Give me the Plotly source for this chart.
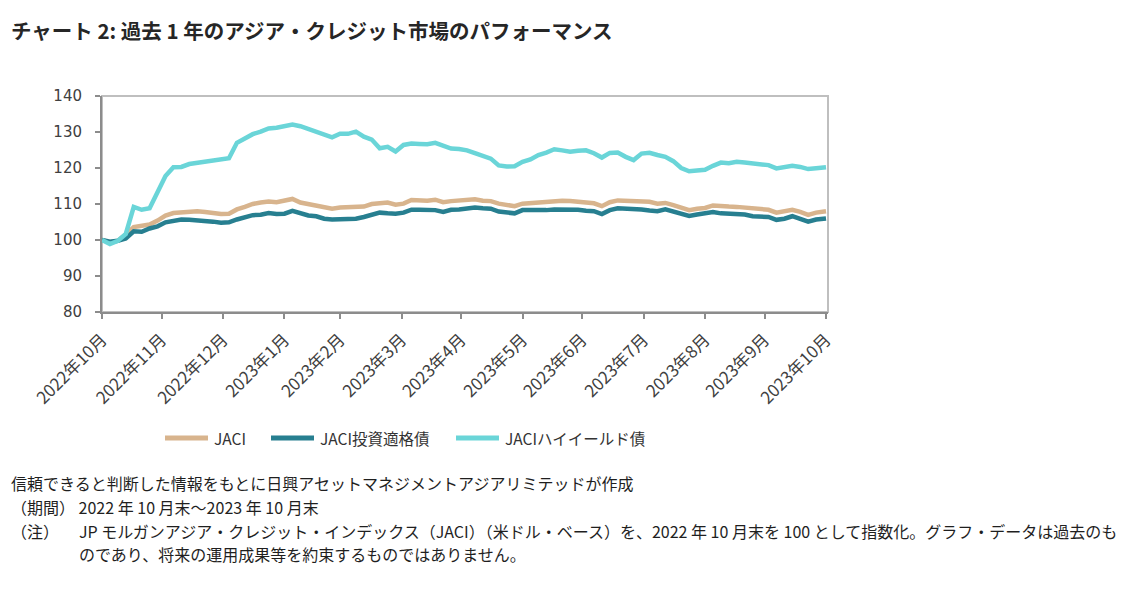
import pandas as pd
import plotly.graph_objects as go

# The page body adds an 8px margin, so the figure is sized to fill the window
OFF = 8
W, H = 1127 - 2 * OFF, 606 - 2 * OFF
PL, PR, PT, PB = 102, 828, 96, 312  # plot area box in window pixels

# ---------------- data ----------------
DATES = list(pd.date_range("2022-10-31", periods=92, freq="4D")) + [pd.Timestamp("2023-10-31")]

JACI = [100.0, 99.3, 99.8, 101.5, 103.6, 103.9, 104.3, 105.4, 106.8, 107.5,
        107.7, 107.9, 108.0, 107.8, 107.5, 107.2, 107.3, 108.5, 109.2, 110.0,
        110.4, 110.7, 110.5, 110.8, 111.4, 110.4, 110.0, 109.6, 109.0, 108.7,
        109.0, 109.1, 108.9, 109.3, 110.0, 110.1, 110.4, 109.8, 110.1, 111.1,
        111.0, 110.9, 111.2, 110.5, 110.8, 110.9, 111.1, 111.3, 110.9, 110.8,
        110.1, 109.7, 109.4, 110.1, 110.3, 110.4, 110.5, 110.8, 110.9, 110.8,
        110.7, 110.6, 110.2, 109.4, 110.5, 111.0, 110.9, 110.8, 110.8, 110.6,
        110.1, 110.3, 109.7, 109.0, 108.3, 108.7, 108.9, 109.6, 109.3, 109.3,
        109.2, 109.0, 108.7, 108.5, 108.4, 107.6, 108.0, 108.4, 107.8, 107.0,
        107.6, 107.9, 108.0]

JACI_IG = [100.0, 99.5, 99.8, 100.4, 102.4, 102.3, 103.2, 103.8, 104.9, 105.3,
           105.7, 105.6, 105.5, 105.4, 105.1, 104.8, 104.9, 105.7, 106.3, 106.9,
           107.0, 107.5, 107.2, 107.3, 108.1, 107.3, 106.8, 106.6, 105.9, 105.7,
           105.7, 105.7, 105.9, 106.4, 107.1, 107.6, 107.4, 107.3, 107.6, 108.4,
           108.4, 108.3, 108.3, 107.8, 108.4, 108.5, 108.8, 109.0, 108.8, 108.7,
           107.9, 107.6, 107.4, 108.3, 108.2, 108.1, 108.3, 108.5, 108.5, 108.6,
           108.4, 108.1, 108.0, 107.2, 108.3, 108.8, 108.8, 108.7, 108.5, 108.2,
           108.0, 108.5, 107.9, 107.2, 106.7, 107.1, 107.4, 107.8, 107.4, 107.4,
           107.3, 107.1, 106.6, 106.5, 106.4, 105.6, 105.9, 106.6, 105.9, 105.1,
           105.7, 105.9, 106.0]

JACI_HY = [100.0, 98.9, 99.8, 101.7, 109.2, 108.4, 108.8, 113.2, 117.8, 120.2,
           120.3, 121.1, 121.4, 121.6, 121.8, 122.4, 122.7, 127.0, 128.1, 129.4,
           130.1, 131.0, 131.2, 131.8, 132.1, 131.6, 130.9, 130.1, 129.3, 128.5,
           129.5, 129.5, 130.1, 128.7, 127.9, 125.5, 125.9, 124.6, 126.4, 126.8,
           126.7, 126.6, 127.0, 126.1, 125.4, 125.3, 124.9, 124.1, 123.4, 122.6,
           120.7, 120.4, 120.5, 121.7, 122.4, 123.6, 124.3, 125.2, 124.9, 124.5,
           124.8, 124.9, 124.1, 122.9, 124.2, 124.3, 123.1, 122.2, 124.0, 124.2,
           123.6, 123.1, 121.9, 120.0, 119.1, 119.2, 119.5, 120.6, 121.5, 121.3,
           121.7, 121.5, 121.3, 121.1, 120.8, 119.9, 120.3, 120.6, 120.3, 119.7,
           119.9, 120.1, 120.2]

SERIES_NAMES = ["JACI", "JACI投資適格債", "JACIハイイールド債"]
COLORS = ["#D8B48D", "#277F90", "#6AD5D8"]

TICK_DATES = ["2022-10-31", "2022-11-30", "2022-12-31", "2023-01-31", "2023-02-28",
              "2023-03-31", "2023-04-30", "2023-05-31", "2023-06-30", "2023-07-31",
              "2023-08-31", "2023-09-30", "2023-10-31"]
TICK_LABELS = ["2022年10月", "2022年11月", "2022年12月", "2023年1月", "2023年2月",
               "2023年3月", "2023年4月", "2023年5月", "2023年6月", "2023年7月",
               "2023年8月", "2023年9月", "2023年10月"]
Y_TICKS = [80, 90, 100, 110, 120, 130, 140]

TITLE = "チャート 2: 過去 1 年のアジア・クレジット市場のパフォーマンス"
NOTE_SOURCE = "信頼できると判断した情報をもとに日興アセットマネジメントアジアリミテッドが作成"
NOTE_PERIOD = "（期間） 2022 年 10 月末～2023 年 10 月末"
NOTE_LABEL = "（注）"
NOTE_TEXT_1 = "JP モルガンアジア・クレジット・インデックス（JACI）（米ドル・ベース）を、2022 年 10 月末を 100 として指数化。グラフ・データは過去のも"
NOTE_TEXT_2 = "のであり、将来の運用成果等を約束するものではありません。"


def px(x):
    return (x - PL) / (PR - PL)


def py(y):
    return (PB - y) / (PB - PT)


FONT = "Noto Sans CJK JP"
AXIS_GRAY = "#8C8C8C"
TEXT = "#404040"

fig = go.Figure()
for name, vals, col in zip(SERIES_NAMES, [JACI, JACI_IG, JACI_HY], COLORS):
    fig.add_trace(go.Scatter(x=DATES, y=vals, name=name, mode="lines",
                             line=dict(color=col, width=4.5), showlegend=False,
                             hoverinfo="x+y+name"))

# frame (light) for top/right
fig.add_shape(type="rect", xref="x domain", yref="y domain", x0=0, x1=1, y0=0, y1=1,
              line=dict(color="#BFBFBF", width=2), layer="below")

# manual legend
LEG_X = [165, 271, 456]
for name, col, lx in zip(SERIES_NAMES, COLORS, LEG_X):
    fig.add_shape(type="line", xref="paper", yref="paper",
                  x0=px(lx), x1=px(lx + 43), y0=py(438), y1=py(438),
                  line=dict(color=col, width=5))
    fig.add_annotation(xref="paper", yref="paper", x=px(lx + 47), y=py(438),
                       text=name, showarrow=False, xanchor="left", yanchor="middle",
                       font=dict(family=FONT, size=15.5, color="#333333"))

# title
fig.add_annotation(xref="paper", yref="paper", x=px(9), y=py(30), text=TITLE,
                   showarrow=False, xanchor="left", yanchor="middle",
                   font=dict(family=FONT, size=20.5, color="#262626", weight=700))

# notes
NOTE_FONT = dict(family=FONT, size=16, color="#1F1F1F")
for txt, xx, yy in [(NOTE_SOURCE, 9, 483), (NOTE_PERIOD, 9, 507), (NOTE_LABEL, 9, 531),
                    (NOTE_TEXT_1, 77, 531), (NOTE_TEXT_2, 77, 554)]:
    fig.add_annotation(xref="paper", yref="paper", x=px(xx), y=py(yy), text=txt,
                       showarrow=False, xanchor="left", yanchor="middle", font=NOTE_FONT)

fig.update_xaxes(type="date", range=["2022-10-31", "2023-11-01"],
                 tickvals=TICK_DATES, ticktext=TICK_LABELS, tickangle=-45,
                 showline=True, linecolor=AXIS_GRAY, linewidth=2,
                 ticks="outside", ticklen=5, tickwidth=2, tickcolor=AXIS_GRAY,
                 showgrid=False, zeroline=False, ticklabelstandoff=4,
                 tickfont=dict(family=FONT, size=17, color=TEXT))
fig.update_yaxes(range=[80, 140], tickvals=Y_TICKS,
                 showline=True, linecolor=AXIS_GRAY, linewidth=2,
                 ticks="outside", ticklen=5, tickwidth=2, tickcolor=AXIS_GRAY,
                 showgrid=False, zeroline=False, ticklabelstandoff=10,
                 tickfont=dict(family="DejaVu Sans", size=15, color=TEXT))

fig.update_layout(width=W, height=H, autosize=False,
                  margin=dict(l=PL - OFF, r=W - (PR - OFF), t=PT - OFF, b=H - (PB - OFF), pad=0),
                  paper_bgcolor="white", plot_bgcolor="white",
                  font=dict(family=FONT))

fig.write_html("out.html")
